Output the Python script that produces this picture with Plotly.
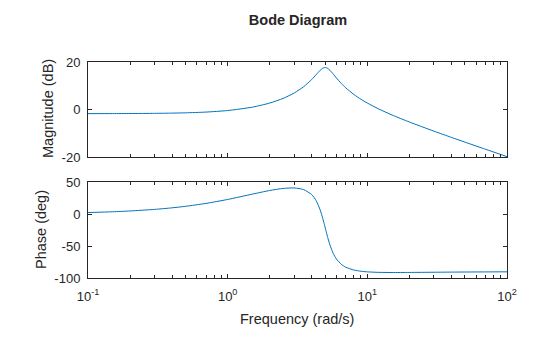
import plotly.graph_objects as go

# Frequency response samples (rad/s, dB, deg)
freq = [0.1, 0.15, 0.2, 0.3, 0.4, 0.5, 0.7, 1.0, 1.5, 2.0, 2.5, 3.0, 3.5, 4.0,
        4.3, 4.6, 4.8, 4.9, 5.0, 5.1, 5.2, 5.4, 5.7, 6.0, 6.5, 7.0, 8.0, 9.0,
        10, 12, 15, 20, 30, 40, 50, 70, 100]
magnitude_db = [-1.667, -1.650, -1.625, -1.555, -1.458, -1.335, -1.015, -0.374,
                1.036, 2.761, 4.745, 7.004, 9.616, 12.674, 14.678, 16.538,
                17.393, 17.615, 17.674, 17.571, 17.322, 16.508, 14.930, 13.339,
                11.038, 9.181, 6.392, 4.358, 2.766, 0.357, -2.217, -5.186,
                -9.033, -11.643, -13.632, -16.599, -19.721]
phase_deg = [2.53, 3.79, 5.05, 7.53, 9.97, 12.36, 16.92, 23.11, 31.41, 37.14,
             40.40, 41.10, 38.55, 30.64, 21.30, 6.43, -6.89, -14.3, -21.80,
             -29.2, -36.18, -48.30, -61.53, -70.09, -78.45, -83.03, -87.48,
             -89.41, -90.37, -91.14, -91.38, -91.29, -90.97, -90.75, -90.61,
             -90.45, -90.31]

x_tick_vals = [0.1, 1, 10, 100]
x_tick_text = ["10<sup>-1</sup>", "10<sup>0</sup>", "10<sup>1</sup>", "10<sup>2</sup>"]
x_minor_vals = [m * d for d in (0.1, 1, 10) for m in range(2, 10)]
mag_ticks = [-20, 0, 20]
mag_tick_text = ["-20", "0", "20"]
phase_ticks = [-100, -50, 0, 50]
phase_tick_text = ["-100", "-50", "0", "50"]

LINE_BLUE = "#0072BD"
AXIS_DARK = "#262626"
FONT = "Liberation Sans, Arial, sans-serif"

fig = go.Figure()
fig.add_trace(go.Scatter(x=freq, y=magnitude_db, mode="lines",
                         line=dict(color=LINE_BLUE, width=1, shape="spline", smoothing=0.6),
                         xaxis="x", yaxis="y", showlegend=False))
fig.add_trace(go.Scatter(x=freq, y=phase_deg, mode="lines",
                         line=dict(color=LINE_BLUE, width=1, shape="spline", smoothing=0.6),
                         xaxis="x2", yaxis="y2", showlegend=False))

common_axis = dict(
    showline=True, linecolor=AXIS_DARK, linewidth=1, mirror="allticks",
    ticks="inside", ticklen=4, tickwidth=1, tickcolor=AXIS_DARK,
    showgrid=False, zeroline=False,
    tickfont=dict(family=FONT, size=13, color=AXIS_DARK),
)
minor_log = dict(tickmode="array", tickvals=x_minor_vals, ticks="inside",
                 ticklen=3, tickwidth=1, tickcolor=AXIS_DARK, showgrid=False)

fig.update_layout(
    width=560, height=337,
    margin=dict(l=88, r=53, t=62, b=59),
    paper_bgcolor="white", plot_bgcolor="white",
    font=dict(family=FONT, color=AXIS_DARK),
    title=dict(text="<b>Bode Diagram</b>", x=298 / 560, xanchor="center",
               y=1 - 20 / 337, yanchor="middle", xref="container", yref="container",
               font=dict(family=FONT, size=14.5, color=AXIS_DARK)),
    xaxis=dict(common_axis, type="log", range=[-1, 2], anchor="y", domain=[0, 1],
               tickvals=x_tick_vals, ticktext=x_tick_text, showticklabels=False,
               minor=minor_log, matches="x2"),
    yaxis=dict(common_axis, range=[-20, 20], domain=[0.5588, 1.0], anchor="x",
               tickvals=mag_ticks, ticktext=mag_tick_text, ticklabelstandoff=4),
    xaxis2=dict(common_axis, type="log", range=[-1, 2], anchor="y2", domain=[0, 1],
                tickvals=x_tick_vals, ticktext=x_tick_text, minor=minor_log,
                ticklabelstandoff=6),
    yaxis2=dict(common_axis, range=[-100, 50], domain=[0, 0.4431], anchor="x2",
                tickvals=phase_ticks, ticktext=phase_tick_text, ticklabelstandoff=4),
)

label_font = dict(family=FONT, size=14.5, color=AXIS_DARK)
fig.add_annotation(text="Magnitude (dB)", xref="paper", yref="paper",
                   x=-0.0955, y=0.787, xanchor="center", yanchor="middle",
                   textangle=-90, showarrow=False, font=label_font)
fig.add_annotation(text="Phase (deg)", xref="paper", yref="paper",
                   x=-0.1122, y=0.2269, xanchor="center", yanchor="middle",
                   textangle=-90, showarrow=False, font=label_font)
fig.add_annotation(text="Frequency (rad/s)", xref="paper", yref="paper",
                   x=0.4988, y=-0.1898, xanchor="center", yanchor="middle",
                   showarrow=False, font=label_font)

fig.write_html("out.html")
